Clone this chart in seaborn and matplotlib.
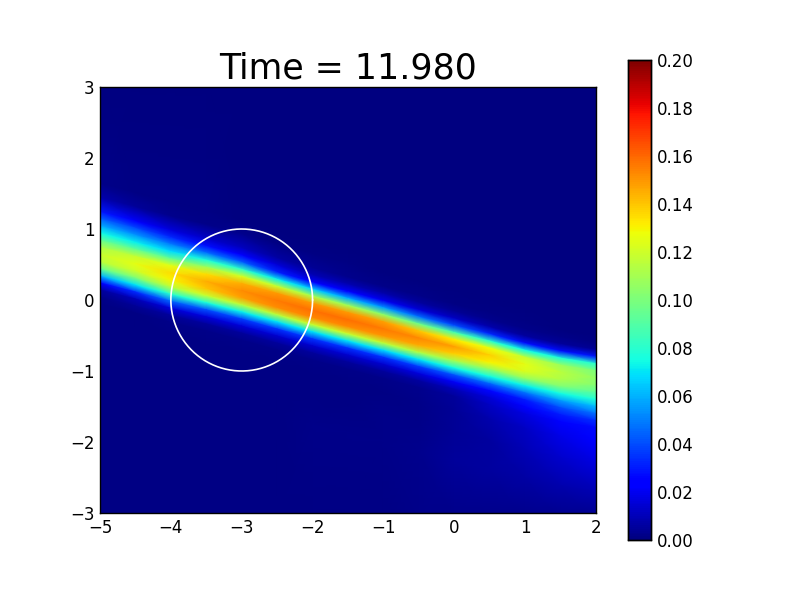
import numpy as np
import pandas as pd
import seaborn as sns
import matplotlib.pyplot as plt

x_vals = [-5.0, -4.5, -4.0, -3.5, -3.0, -2.5, -2.0, -1.5, -1.0, -0.5, 0.0, 0.5, 1.0, 1.5, 2.0]
# y of the crest of the band in each column
ridge_y = [.64, .51, .38, .26, .13, -.01, -.15, -.28, -.41, -.54, -.66, -.78, -.91, -1.02, -1.1]
# distance from the crest of each row, rows are read per column below
offsets = [1.0, .8, .6, .5, .4, .3, .2, .1, 0, -.1, -.2, -.3, -.4, -.5, -.6, -.7, -.9, -1.2, -1.6]
y_top = 3.1
y_bottom = -3.1

# one value per offset, then the value at the bottom edge
col_m50 = [.002, .008, .03, .045, .06, .075, .095, .112, .118, .115, .095, .06, .022, .006, .002, .001, .001, .001, .001, .001]
col_m45 = [.001, .005, .024, .04, .055, .072, .095, .118, .125, .12, .1, .07, .033, .01, .004, .001, .001, .001, .001, .001]
col_m40 = [.001, .003, .017, .033, .05, .068, .095, .125, .135, .13, .115, .08, .045, .016, .005, .002, .001, .001, .001, .001]
col_m35 = [.001, .002, .014, .028, .048, .078, .11, .135, .145, .14, .118, .077, .04, .016, .005, .002, .001, .001, .001, .001]
col_m30 = [0, .003, .012, .024, .045, .082, .122, .145, .152, .148, .115, .072, .037, .015, .005, .002, .001, .001, .001, .001]
col_m25 = [0, .001, .007, .016, .032, .072, .118, .15, .156, .152, .115, .07, .035, .014, .005, .002, .001, .001, .001, .001]
col_m20 = [0, .001, .004, .01, .024, .065, .112, .15, .158, .153, .118, .07, .035, .014, .005, .002, .001, .001, .002, .001]
col_m15 = [0, .001, .003, .009, .022, .06, .11, .15, .158, .152, .118, .07, .034, .014, .005, .002, .001, .001, .002, .001]
col_m10 = [0, 0, .002, .008, .02, .056, .105, .148, .156, .15, .116, .068, .034, .014, .005, .002, .001, .002, .002, .001]
col_m05 = [0, 0, .002, .006, .016, .048, .097, .14, .153, .146, .113, .07, .036, .016, .006, .003, .002, .002, .003, .002]
col_p00 = [0, 0, .001, .004, .012, .04, .088, .132, .148, .138, .11, .075, .041, .021, .01, .005, .004, .004, .005, .002]
col_p05 = [0, 0, .001, .003, .008, .033, .08, .128, .138, .13, .105, .075, .045, .026, .015, .012, .008, .006, .006, .002]
col_p10 = [0, 0, .001, .002, .006, .028, .075, .118, .125, .122, .105, .072, .047, .03, .022, .017, .012, .01, .007, .002]
col_p15 = [0, 0, 0, .002, .005, .028, .078, .108, .115, .112, .1, .075, .055, .04, .03, .024, .018, .014, .008, .002]
col_p20 = [0, 0, 0, .001, .004, .03, .08, .1, .105, .102, .092, .078, .062, .047, .034, .027, .022, .017, .009, .002]

x_ticks = [-5, -4, -3, -2, -1, 0, 1, 2]
y_ticks = [-3, -2, -1, 0, 1, 2, 3]
cbar_ticks = [0.00, 0.02, 0.04, 0.06, 0.08, 0.10, 0.12, 0.14, 0.16, 0.18, 0.20]
circle_center = (-3, 0)
circle_radius = 1

df = pd.DataFrame(
    np.column_stack([col_m50, col_m45, col_m40, col_m35, col_m30, col_m25, col_m20, col_m15,
                     col_m10, col_m05, col_p00, col_p05, col_p10, col_p15, col_p20]),
    index=offsets + ['bottom'], columns=x_vals)

sns.set_style('white')
plt.rcParams['font.family'] = ['DejaVu Sans']
plt.rcParams['text.color'] = 'black'
plt.rcParams['xtick.color'] = 'black'
plt.rcParams['ytick.color'] = 'black'

fig = plt.figure(figsize=(8, 6), dpi=100)
ax = fig.add_axes([100 / 800, 1 - 513 / 600, 496 / 800, 426 / 600])
cax = fig.add_axes([628 / 800, 1 - 540 / 600, 23 / 800, 480 / 600])

sns.heatmap(df, ax=ax, cbar_ax=cax, cmap='jet', vmin=0, vmax=0.2,
            xticklabels=False, yticklabels=False, cbar_kws={'ticks': cbar_ticks})
# heatmap only does square cells, the band runs on a slant so redraw the same table on a sheared mesh
ax.collections[0].set_visible(False)

ridge = np.array(ridge_y)
yy = np.vstack([np.full(len(x_vals), y_top)] +
               [ridge + o for o in offsets] +
               [np.full(len(x_vals), y_bottom)])
xx = np.tile(x_vals, (yy.shape[0], 1))
zz = np.vstack([np.zeros(len(x_vals)), df.values])
ax.pcolormesh(xx, yy, zz, cmap='jet', vmin=0, vmax=0.2, shading='gouraud')
ax.set_xlim(-5, 2)
ax.set_ylim(-3, 3)

theta = np.linspace(0, 2 * np.pi, 200)
ax.plot(circle_center[0] + circle_radius * np.cos(theta),
        circle_center[1] + circle_radius * np.sin(theta),
        color='white', lw=1.2)

ax.set_xticks(x_ticks)
ax.set_xticklabels([str(v).replace('-', '\u2212') for v in x_ticks], fontsize=12)
ax.set_yticks(y_ticks)
ax.set_yticklabels([str(v).replace('-', '\u2212') for v in y_ticks], fontsize=12, rotation=0)
ax.tick_params(direction='in', length=4, width=0.6, color='black', top=True, right=True,
               bottom=True, left=True, pad=4)
ax.set_xlabel('')
ax.set_ylabel('')
for s in ax.spines.values():
    s.set_visible(True)
    s.set_color('black')
    s.set_linewidth(1)

ax.set_title('Time = 11.980', fontsize=25, pad=6, color='black')

cax.set_yticks(cbar_ticks)
cax.set_yticklabels(['%.2f' % v for v in cbar_ticks], fontsize=12)
cax.tick_params(direction='in', length=4, width=0.6, color='black', right=True, left=False, pad=4)
for s in cax.spines.values():
    s.set_visible(True)
    s.set_color('black')
    s.set_linewidth(1)

plt.savefig('out.png', dpi=100)
